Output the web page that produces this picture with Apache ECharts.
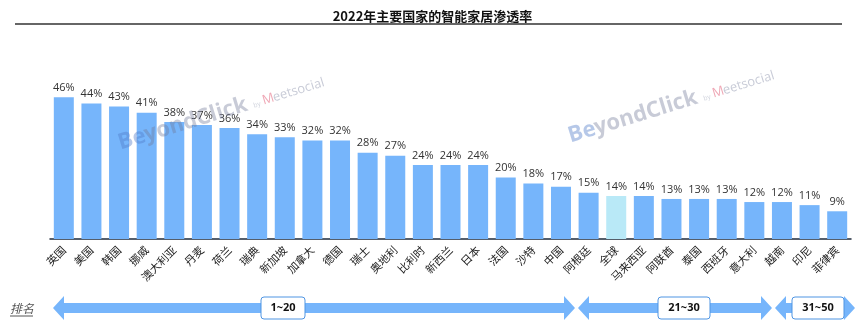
<!DOCTYPE html>
<html>
<head>
<meta charset="utf-8">
<script src="https://cdn.jsdelivr.net/npm/echarts@6/dist/echarts.min.js"></script>
<style>
html,body{margin:0;padding:0;background:#fff;}
#c{width:865px;height:330px;}
</style>
</head>
<body>
<div id="c"></div>
<script>
const categories = ['英国','美国','韩国','挪威','澳大利亚','丹麦','荷兰','瑞典','新加坡','加拿大','德国','瑞士','奥地利','比利时','新西兰','日本','法国','沙特','中国','阿根廷','全球','马来西亚','阿联酋','泰国','西班牙','意大利','越南','印尼','菲律宾'];
const penetration = [46,44,43,41,38,37,36,34,33,32,32,28,27,24,24,24,20,18,17,15,14,14,13,13,13,12,12,11,9];
const highlightCategory = '全球';
const rankGroups = ['1~20','21~30','31~50'];

const chart = echarts.init(document.getElementById('c'), null, {renderer:'canvas'});

const BLUE = '#76b5fb';
const HL = '#b9e9f7';

function arrow(x1, x2, cy) {
  const sh = 5, hh = 12, hl = 11;
  return {
    type:'polygon', silent:true,
    shape:{points:[[x1,cy],[x1+hl,cy-hh],[x1+hl,cy-sh],[x2-hl,cy-sh],[x2-hl,cy-hh],[x2,cy],[x2-hl,cy+hh],[x2-hl,cy+sh],[x1+hl,cy+sh],[x1+hl,cy+hh]]},
    style:{fill:BLUE}
  };
}
function box(cx, cy, w, text) {
  return [{
    type:'rect', silent:true,
    shape:{x:cx-w/2, y:cy-11, width:w, height:22, r:3},
    style:{fill:'#fff', stroke:'#4f95e3', lineWidth:1}
  },{
    type:'text', silent:true, x:cx, y:cy,
    style:{text:text, fill:'#111', font:'bold 11px "Open Sans", sans-serif', align:'center', verticalAlign:'middle'}
  }];
}
function watermark(x, y) {
  return {
    type:'group', x:x, y:y, rotation: 17*Math.PI/180, silent:true, z:100,
    children:[
      {type:'text', z:100, x:0, y:0, style:{text:'Be', fill:'rgba(80,125,200,0.42)', font:'bold 22px "Open Sans", sans-serif', verticalAlign:'bottom'}},
      {type:'text', z:100, x:27, y:0, style:{text:'yondClick', fill:'rgba(110,118,150,0.38)', font:'bold 22px "Open Sans", sans-serif', verticalAlign:'bottom'}},
      {type:'text', z:100, x:140, y:-4, style:{text:'by', fill:'rgba(110,118,150,0.3)', font:'7px sans-serif', verticalAlign:'bottom'}},
      {type:'text', z:100, x:150, y:-3, style:{text:'M', fill:'rgba(220,60,90,0.45)', font:'13px "Open Sans", sans-serif', verticalAlign:'bottom'}},
      {type:'text', z:100, x:161, y:-3, style:{text:'eetsocial', fill:'rgba(110,118,150,0.38)', font:'13px "Open Sans", sans-serif', verticalAlign:'bottom'}}
    ]
  };
}

const graphics = [
  {type:'line', silent:true, shape:{x1:15,y1:24,x2:842,y2:24}, style:{stroke:'#666', lineWidth:2}},
  {type:'text', silent:true, x:10, y:308, style:{text:'排名', fill:'#555', font:'italic 12px "Noto Sans CJK SC", sans-serif', verticalAlign:'middle'}},
  {type:'line', silent:true, shape:{x1:10,y1:316,x2:33,y2:316}, style:{stroke:'#555', lineWidth:1}},
  arrow(53, 575, 308),
  arrow(578, 772, 308),
  arrow(775, 855, 308),
  ...box(283, 308, 44, rankGroups[0]),
  ...box(684, 308, 52, rankGroups[1]),
  ...box(818, 308, 52, rankGroups[2]),
  watermark(122, 154),
  watermark(572, 147)
];

chart.setOption({
  animation:false,
  backgroundColor:'#fff',
  title:{
    text:'2022年主要国家的智能家居渗透率',
    left:'center', top:5,
    textStyle:{fontSize:13, fontWeight:'bold', color:'#111', fontFamily:'"Noto Sans CJK SC", sans-serif'}
  },
  grid:{left:50, right:14, top:85, bottom:91, containLabel:false},
  xAxis:{
    type:'category', data:categories,
    axisLine:{lineStyle:{color:'#1e2a3a', width:1.5}},
    axisTick:{show:false},
    axisLabel:{rotate:45, interval:0, fontSize:11, color:'#222', margin:9, fontFamily:'"Noto Sans CJK SC", sans-serif'}
  },
  yAxis:{type:'value', min:0, max:50, show:false, splitLine:{show:false}},
  series:[{
    type:'bar', barWidth:20, z:2,
    data: penetration.map((v,i)=>({value:v, itemStyle:{color: categories[i]===highlightCategory ? HL : BLUE}})),
    label:{show:true, position:'top', distance:4, formatter:'{c}%', fontSize:11, color:'#333', fontFamily:'"Open Sans", sans-serif'}
  }],
  graphic: graphics
});
</script>
</body>
</html>
